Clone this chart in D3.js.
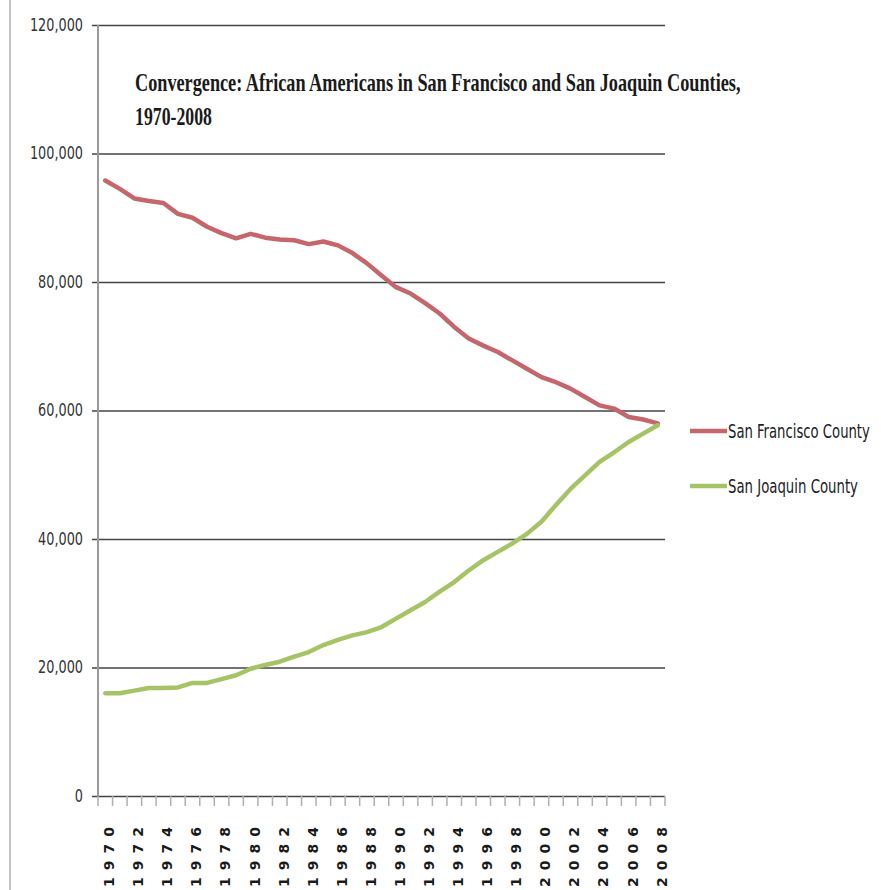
<!DOCTYPE html>
<html>
<head>
<meta charset="utf-8">
<script src="https://cdn.jsdelivr.net/npm/d3@7"></script>
<style>
  html, body { margin: 0; padding: 0; background: #fff; }
  svg { display: block; }
</style>
</head>
<body>
<svg id="chart" width="881" height="890"></svg>
<script>
const years = d3.range(1970, 2009);
const sanFrancisco = [
  95800, 94500, 93000, 92600, 92300, 90600, 90000, 88600, 87600, 86800,
  87500, 86900, 86600, 86500, 85900, 86300, 85700, 84500, 82900, 81000,
  79200, 78200, 76700, 75100, 73000, 71200, 70100, 69100, 67800, 66500,
  65200, 64400, 63400, 62100, 60800, 60300, 59000, 58600, 58000
];
const sanJoaquin = [
  16000, 16000, 16400, 16800, 16800, 16900, 17600, 17600, 18200, 18800,
  19800, 20400, 20900, 21700, 22400, 23500, 24300, 25000, 25500, 26300,
  27600, 28900, 30200, 31800, 33300, 35100, 36700, 38000, 39300, 40800,
  42700, 45300, 47800, 49900, 52000, 53500, 55100, 56400, 57700
];
const yTicks = [0, 20000, 40000, 60000, 80000, 100000, 120000];
const xTickLabels = years.filter(y => y % 2 === 0);
const seriesNames = ["San Francisco County", "San Joaquin County"];
const titleLines = ["Convergence: African Americans in San Francisco and San Joaquin Counties,", "1970-2008"];

(function () {
const colors = ["#c5666c", "#a6c466"];
const series = [sanFrancisco, sanJoaquin];

const svg = d3.select("#chart");
const pLeft = 98, pRight = 665, pTop = 25, pBottom = 796;

// fit text horizontally by scaling it (keeps real glyphs, correct bbox)
function fitText(parent, tx, ty, str, targetW, attrs) {
  const g = parent.append("g").attr("transform", `translate(${tx},${ty})`);
  const t = g.append("text").attr("x", 0).attr("y", 0).text(str);
  Object.entries(attrs).forEach(([k, v]) => t.attr(k, v));
  const w = t.node().getComputedTextLength();
  const k = w > 0 ? targetW / w : 1;
  t.attr("transform", `scale(${k},1)`);
  return t;
}

// outer frame edge
svg.append("line").attr("x1", 10).attr("x2", 10).attr("y1", 0).attr("y2", 890)
  .attr("stroke", "#c4c4c4").attr("stroke-width", 2);

const x = d3.scaleBand().domain(years).range([pLeft, pRight]).paddingInner(0).paddingOuter(0);
const y = d3.scaleLinear().domain([0, 120000]).range([pBottom, pTop]);

// gridlines + y labels
const yk = 0.84;
const yAxis = d3.axisLeft(y).tickValues(yTicks).tickFormat(d3.format(","))
  .tickSize(-(pRight - 92)).tickPadding(9);
const gy = svg.append("g").attr("transform", "translate(92,0)").call(yAxis);
gy.select(".domain").remove();
gy.selectAll(".tick line").attr("stroke", "#444").attr("stroke-width", 1.6);
gy.selectAll(".tick text")
  .attr("font-family", "'DejaVu Sans Condensed', 'DejaVu Sans', sans-serif")
  .attr("font-size", 17).attr("fill", "#333")
  .attr("x", -9 / yk)
  .attr("transform", `scale(${yk},1)`);

// y axis line
svg.append("line").attr("x1", pLeft).attr("x2", pLeft).attr("y1", pTop).attr("y2", pBottom)
  .attr("stroke", "#9a9a9a").attr("stroke-width", 2);

// x axis boundary ticks
const boundaries = years.map(d => x(d)).concat([x(years[years.length - 1]) + x.bandwidth()]);
svg.append("g").selectAll("line").data(boundaries).join("line")
  .attr("x1", d => d).attr("x2", d => d).attr("y1", pBottom).attr("y2", pBottom + 10)
  .attr("stroke", "#b0b0b0").attr("stroke-width", 1.5);

// x labels
const xAxis = d3.axisBottom(x).tickValues(xTickLabels).tickSize(0).tickPadding(0);
const gx = svg.append("g").attr("transform", `translate(0,${pBottom})`).call(xAxis);
gx.select(".domain").remove();
gx.selectAll(".tick text")
  .attr("transform", "translate(4,24) rotate(-90)")
  .attr("text-anchor", "end")
  .attr("dy", "0.35em")
  .attr("y", 0)
  .attr("font-family", "'DejaVu Sans', sans-serif")
  .attr("font-weight", "bold")
  .attr("font-size", 14)
  .attr("letter-spacing", 7)
  .attr("fill", "#1a1a1a");

// lines
const line = d3.line().x((d, i) => x(years[i]) + x.bandwidth() / 2).y(d => y(d)).curve(d3.curveLinear);
series.forEach((s, i) => {
  svg.append("path").datum(s).attr("d", line)
    .attr("fill", "none").attr("stroke", colors[i]).attr("stroke-width", 4.5)
    .attr("stroke-linejoin", "round").attr("stroke-linecap", "round");
});

// title
const titleAttrs = {
  "font-family": "'Liberation Serif', 'DejaVu Serif', serif",
  "font-weight": "bold", "font-size": 26, "fill": "#1a1a1a"
};
fitText(svg, 135, 91, titleLines[0], 606, titleAttrs);
fitText(svg, 135, 125, titleLines[1], 77, titleAttrs);

// legend
const legendY = [431, 486];
const legendW = [142, 130];
seriesNames.forEach((name, i) => {
  svg.append("line").attr("x1", 690).attr("x2", 727).attr("y1", legendY[i]).attr("y2", legendY[i])
    .attr("stroke", colors[i]).attr("stroke-width", 4.5);
  fitText(svg, 728, legendY[i], name, legendW[i], {
    "dy": "0.35em",
    "font-family": "'DejaVu Sans Condensed', 'DejaVu Sans', sans-serif",
    "font-size": 19, "fill": "#222"
  });
});
})();
</script>
</body>
</html>
